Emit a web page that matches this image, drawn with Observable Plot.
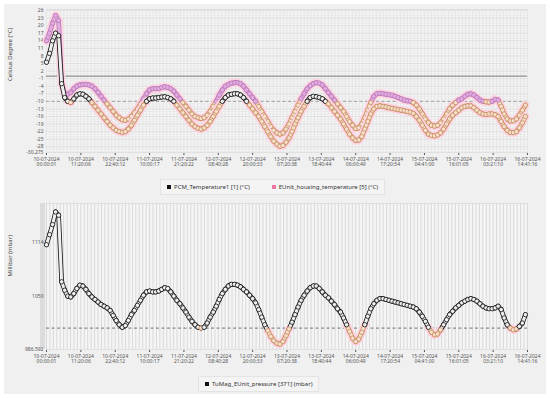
<!DOCTYPE html>
<html>
<head>
<meta charset="utf-8">
<script src="https://cdn.jsdelivr.net/npm/d3@7"></script>
<script src="https://cdn.jsdelivr.net/npm/@observablehq/plot@0.6"></script>
<style>
  html, body { margin: 0; padding: 0; background: #ffffff; }
  #wrap { position: relative; width: 550px; height: 398px; overflow: hidden; background: #ffffff; font-family: "Noto Sans", "DejaVu Sans", sans-serif; }
  #bg { position: absolute; left: 4px; top: 4px; width: 542px; height: 390px; background: #f0f0f0; }
  .chart { position: absolute; left: 0; }
  .legend { position: absolute; font-size: 6px; color: #333; display: flex; align-items: center; gap: 22px; padding: 3px 6px; border: 1px solid #e4e4e4; background: #f4f4f4; white-space: nowrap; }
  .legend span.item { display: inline-flex; align-items: center; gap: 3px; }
  .legend i { display: inline-block; width: 4px; height: 4px; }
  #band { position: absolute; left: 40px; top: 203px; width: 5px; height: 146px; background: #dcdcdc; }
</style>
</head>
<body>
<div id="wrap">
  <div id="bg"></div>
  <div id="band"></div>
  <div id="topChart" class="chart" style="top:0px"></div>
  <div id="bottomChart" class="chart" style="top:194px"></div>
  <div id="legTop" class="legend" style="left:160px; top:179px;"></div>
  <div id="legBottom" class="legend" style="left:198px; top:376px;"></div>
</div>
<script>
// ---------- data ----------
const tickLabels = ["10-07-2024 00:00:01", "10-07-2024 11:20:06", "10-07-2024 22:40:12", "11-07-2024 10:00:17", "11-07-2024 21:20:22", "12-07-2024 08:40:28", "12-07-2024 20:00:33", "13-07-2024 07:20:38", "13-07-2024 18:40:44", "14-07-2024 06:00:49", "14-07-2024 17:20:54", "15-07-2024 04:41:00", "15-07-2024 16:01:05", "16-07-2024 03:21:10", "16-07-2024 14:41:16"];
const sampleStepHours = 1; // one reading per hour from the first timestamp

const tempTicks = [26, 23, 20, 17, 14, 11, 8, 5, 2, -1, -4, -7, -10, -13, -16, -19, -22, -25, -28, -30.275];
const pressTicks = [1114, 1050, 986.592];
const tempThreshold = -10;
const pressThreshold = 1012;

const eunitTemp = [
  14, 17, 21, 24, 22, -3, -7, -7.2, -6.5, -5,
  -4, -3.5, -3.3, -3.3, -3.5, -4, -5, -6.5, -8, -9.5,
  -11, -12.5, -14, -15.5, -16.5, -17.3, -17.5, -17, -16, -14.5,
  -13, -11, -9, -7, -5.5, -5, -5, -5, -4.5, -4.2,
  -4.5, -5, -6, -7.5, -9, -10.5, -12, -13.5, -15, -16,
  -16.5, -16.8, -16.5, -15.5, -14, -12, -10, -7.5, -5.5, -4,
  -3.3, -2.8, -2.6, -2.6, -3, -4, -5.5, -7, -8.5, -10,
  -12, -14, -16, -18, -20, -21.5, -22.5, -23, -22.5, -21,
  -19, -16.5, -14, -11.5, -9, -7, -5, -3.8, -3, -2.6,
  -2.8, -3.5, -5, -6.5, -8, -9.5, -11, -12.5, -14, -16,
  -18, -19.5, -20.8, -20.5, -19, -16.5, -13.5, -10.5, -8, -7,
  -6.8, -7, -7.2, -7.4, -7.6, -8, -8.5, -9, -9.5, -9.8,
  -10, -10.5, -11.5, -13, -15, -17, -18.5, -19.5, -19.8, -19.5,
  -18.5, -17, -15, -13, -11.5, -10.5, -9.5, -9, -8, -7.2,
  -7, -7.5, -8.5, -9.5, -10, -10.2, -10.3, -10, -9.2, -9.5,
  -12, -15, -17, -17.8, -17.7, -17, -15.5, -13.5, -11.5
];

const pcmTemp = [
  5.5, 9, 14, 17, 16, -3, -8.5, -10, -10.5, -9,
  -7.5, -7, -7.2, -8, -9, -10.5, -12, -13.5, -15, -16.5,
  -18, -19.5, -20.5, -21.5, -22, -22.3, -22, -21, -19.5, -17.5,
  -15.5, -13.5, -11.5, -10, -9, -8.7, -8.7, -8.5, -8.3, -8.2,
  -8.5, -9, -10, -11.5, -13, -14.5, -16, -17.5, -19, -20,
  -20.7, -21, -20.5, -19.5, -18, -16, -14, -12, -10, -8.5,
  -7.5, -7.2, -7, -7, -7.5, -8.5, -10, -11.5, -13, -14.5,
  -16, -18, -20, -22, -24, -25.8, -27, -27.8, -27.5, -26.2,
  -24.5, -22, -19, -16.5, -14, -12, -10, -8.5, -8, -8.2,
  -8.5, -9, -10, -11, -12.5, -14, -15.5, -17, -19, -21,
  -23, -24.5, -25.5, -25.3, -24, -21, -18, -15, -13, -12,
  -11.8, -12, -12.2, -12.5, -12.8, -13, -13.3, -13.5, -13.7, -14,
  -14.3, -14.8, -16, -17.5, -19.5, -21.5, -23, -23.5, -23.7, -23.3,
  -22.5, -21, -19, -17, -15.5, -14.5, -13.5, -12.5, -12, -11.8,
  -11.8, -12.5, -13.5, -14.5, -15, -15.2, -15, -15, -15.3, -16,
  -18, -20, -21.5, -22.3, -22.4, -22, -20.5, -18.5, -16
];

const pressure = [
  1111, 1123, 1135, 1150, 1146, 1067, 1057, 1050, 1049, 1053,
  1059, 1063, 1062, 1058, 1053, 1049, 1046, 1043, 1040, 1038,
  1036, 1033, 1027, 1021, 1016, 1013, 1015, 1021, 1028, 1033,
  1039, 1045, 1051, 1055, 1056, 1055, 1055, 1056, 1058, 1060,
  1059, 1055, 1050, 1045, 1041, 1036, 1031, 1025, 1020, 1016,
  1013, 1012, 1013, 1018, 1025, 1031, 1038, 1046, 1053, 1058,
  1062, 1064, 1064, 1063, 1061, 1058, 1055, 1051, 1047, 1042,
  1034, 1025, 1016, 1009, 1002, 997, 994, 993, 996, 1003,
  1011, 1019, 1028, 1037, 1045, 1051, 1056, 1060, 1062, 1062,
  1059, 1055, 1051, 1048, 1044, 1040, 1035, 1031, 1024, 1016,
  1008, 1000, 996, 999, 1007, 1016, 1026, 1035, 1041, 1045,
  1047, 1047, 1046, 1045, 1044, 1043, 1042, 1041, 1040, 1039,
  1038, 1037, 1035, 1031, 1026, 1020, 1013, 1007, 1004, 1005,
  1010, 1016, 1022, 1028, 1032, 1036, 1039, 1042, 1044, 1046,
  1047, 1046, 1044, 1041, 1038, 1036, 1035, 1035, 1036, 1038,
  1034, 1024, 1016, 1012, 1010, 1011, 1014, 1018, 1028
];

// ---------- helpers ----------
function parseStamp(s) {
  const [d, t] = s.split(" ");
  const [dd, mm, yy] = d.split("-").map(Number);
  const [H, M, S] = t.split(":").map(Number);
  return Date.UTC(yy, mm - 1, dd, H, M, S);
}
const t0 = parseStamp(tickLabels[0]);
const tickHours = tickLabels.map(s => (parseStamp(s) - t0) / 3.6e6);
const labelByHour = new Map(tickHours.map((h, i) => [h, tickLabels[i].replace(" ", "\n")]));
const xEnd = tickHours[tickHours.length - 1];
const tickStep = tickHours[1] - tickHours[0];
const minorX = d3.range(0, xEnd + 1e-6, tickStep / 10);

const rowsOf = (vals, series) => vals.map((v, i) => ({h: i * sampleStepHours, v, series}));
const segsOf = rows => d3.pairs(rows).map(([a, b]) => ({h1: a.h, v1: a.v, h2: b.h, v2: b.v, mid: (a.v + b.v) / 2}));
const eunitRows = rowsOf(eunitTemp, "EUnit");
const pcmRows = rowsOf(pcmTemp, "PCM");
const pressRows = rowsOf(pressure, "P");

const FONT = '"Noto Sans", "DejaVu Sans", sans-serif';
const PINK_STROKE = "#b97bb9", PINK_FILL = "#e2acdf", HALO = "#ffd3e2";
const OR_STROKE = "#c68d60", OR_FILL = "#f6dfcc";
const BLACK_FILL = "#efefef";

// tube of overlapping readings: outer link in outline colour, inner link in fill colour
function chain(rows, isAlarm, normStroke, normFill, haloAll) {
  const segs = segsOf(rows);
  const sc = d => isAlarm(d.mid) ? OR_STROKE : normStroke;
  const fc = d => isAlarm(d.mid) ? OR_FILL : normFill;
  return [
    Plot.link(segs.filter(d => haloAll || isAlarm(d.mid)), {x1: "h1", y1: "v1", x2: "h2", y2: "v2", stroke: HALO, strokeWidth: 8, strokeLinecap: "round"}),
    Plot.link(segs, {x1: "h1", y1: "v1", x2: "h2", y2: "v2", stroke: sc, strokeWidth: 4.6, strokeLinecap: "round"}),
    Plot.link(segs, {x1: "h1", y1: "v1", x2: "h2", y2: "v2", stroke: fc, strokeWidth: 3.0, strokeLinecap: "round"}),
    Plot.dot(rows, {x: "h", y: "v", r: 2.2, strokeWidth: 0.8,
      stroke: d => isAlarm(d.v) ? OR_STROKE : normStroke,
      fill: d => isAlarm(d.v) ? OR_FILL : normFill})
  ];
}

const xOpts = {
  domain: [0, xEnd], ticks: tickHours, tickFormat: h => labelByHour.get(h) ?? "",
  tickSize: 3, tickPadding: 2, label: null
};

// ---------- top chart ----------
const tempAlarm = v => v < tempThreshold;
const topPlot = Plot.plot({
  width: 550, height: 178,
  marginLeft: 46, marginRight: 23, marginTop: 9, marginBottom: 26,
  style: {background: "transparent", fontFamily: FONT, fontSize: "5px", color: "#555", overflow: "visible"},
  x: xOpts,
  y: {domain: [-30.275, 26.4], ticks: tempTicks, tickFormat: d => String(d), tickSize: 0, tickPadding: 3, label: null},
  marks: [
    Plot.frame({fill: "#f7f7f7", stroke: "#dedede"}),
    Plot.gridX(minorX, {stroke: "#e4e4e4", strokeOpacity: 1}),
    Plot.gridY(d3.range(-30, 27, 1), {stroke: "#e9e9e9", strokeOpacity: 1}),
    Plot.gridY(tempTicks, {stroke: "#e0e0e0", strokeOpacity: 1}),
    Plot.ruleY([0], {stroke: "#7a7a7a", strokeWidth: 1}),
    Plot.ruleY([tempThreshold], {stroke: "#8a8a8a", strokeDasharray: "3,2.5", strokeWidth: 0.8}),
    ...chain(eunitRows, tempAlarm, PINK_STROKE, PINK_FILL, true),
    ...chain(pcmRows, tempAlarm, "#111", BLACK_FILL, false),
    Plot.text(["Celsius Degree (°C)"], {frameAnchor: "left", dx: -36, rotate: -90, fontSize: 6, fill: "#444"})
  ]
});
document.getElementById("topChart").append(topPlot);

// ---------- bottom chart ----------
const pressAlarm = v => v <= pressThreshold;
const bottomPlot = Plot.plot({
  width: 550, height: 181,
  marginLeft: 46, marginRight: 23, marginTop: 9, marginBottom: 26,
  style: {background: "transparent", fontFamily: FONT, fontSize: "5px", color: "#555", overflow: "visible"},
  x: xOpts,
  y: {domain: [986.592, 1160], ticks: pressTicks, tickFormat: d => String(d), tickSize: 0, tickPadding: 3, label: null},
  marks: [
    Plot.frame({fill: "#f5f5f5", stroke: "#e0e0e0"}),
    Plot.gridX(minorX, {stroke: "#d9d9d9", strokeOpacity: 1}),
    Plot.ruleY([pressThreshold], {stroke: "#555", strokeDasharray: "3,2.5", strokeWidth: 0.8}),
    ...chain(pressRows, pressAlarm, "#111", BLACK_FILL, false),
    Plot.text(["Millibar (mbar)"], {frameAnchor: "left", dx: -36, rotate: -90, fontSize: 6, fill: "#444"})
  ]
});
document.getElementById("bottomChart").append(bottomPlot);

// ---------- legends ----------
const legTop = [
  {label: "PCM_Temperature1 [1] (°C)", color: "#111"},
  {label: "EUnit_housing_temperature [5] (°C)", color: "#e8789e"}
];
const legBottom = [{label: "TuMag_EUnit_pressure [371] (mbar)", color: "#111"}];
function fillLegend(id, items) {
  const el = document.getElementById(id);
  for (const it of items) {
    const s = document.createElement("span");
    s.className = "item";
    const sw = document.createElement("i");
    sw.style.background = it.color;
    s.append(sw, document.createTextNode(it.label));
    el.append(s);
  }
}
fillLegend("legTop", legTop);
fillLegend("legBottom", legBottom);
</script>
</body>
</html>
